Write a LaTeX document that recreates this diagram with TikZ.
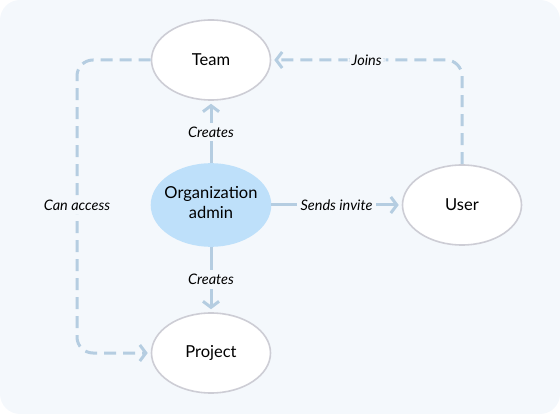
\documentclass[tikz,border=0pt]{standalone}
\usepackage{fontspec}
\setmainfont{Lato}
\usepackage{xcolor}
\usepackage{tikz}
\usetikzlibrary{calc}
\usetikzlibrary{arrows.meta}
\usetikzlibrary{shapes.geometric}
\usetikzlibrary{positioning}
\definecolor{bgblue}{HTML}{F4F8FC}
\definecolor{linkblue}{HTML}{B5CDE1}
\definecolor{adminblue}{HTML}{BEE0FA}
\definecolor{rimgray}{HTML}{CDCDD5}
\tikzset{>={Straight Barb[length=6pt,width=16pt]}}
\tikzstyle{ent} = [ellipse, draw=rimgray, line width=1.6pt, fill=white, minimum width=119pt, minimum height=80pt, inner sep=0pt, font=\fontsize{16.5}{20}\selectfont]
\tikzstyle{link} = [->, draw=linkblue, line width=3pt, shorten >=3pt]
\tikzstyle{dlink} = [link, dash pattern=on 12pt off 7pt, rounded corners=16pt]
\tikzstyle{lbl} = [fill=bgblue, inner sep=4pt, text=black, font=\fontsize{14.5}{17}\selectfont\itshape]

\begin{document}
\begin{tikzpicture}[x=1pt, y=-1pt]
\useasboundingbox (0, 0) rectangle (560, 414);
\fill [bgblue, rounded corners=20pt] (0, 0) rectangle (560, 414);

\node [ent] (team) at (211, 60) {Team};
\node [ent, draw=adminblue, fill=adminblue, minimum height=82pt] (admin) at (211, 205) {\makebox[0pt]{\raisebox{-4pt}{\begin{tabular}{@{}c@{}}Organization\\admin\end{tabular}}}};
\node [ent] (user) at (462, 205) {User};
\node [ent] (project) at (211, 353) {Project};
\coordinate (bend) at (77, 205);

\draw [link] (admin) to node[lbl] {Creates} (team);
\draw [link] (admin) to node[lbl] {Creates} (project);
\draw [link] (admin) to node[lbl] {Sends invite} (user);
\draw [dlink] (user) |- node[lbl, pos=0.75] {Joins} (team);
\draw [dlink] (team) -| (bend) |- (project);
\node [lbl] (access) at (bend) {Can access};
\end{tikzpicture}
\end{document}
